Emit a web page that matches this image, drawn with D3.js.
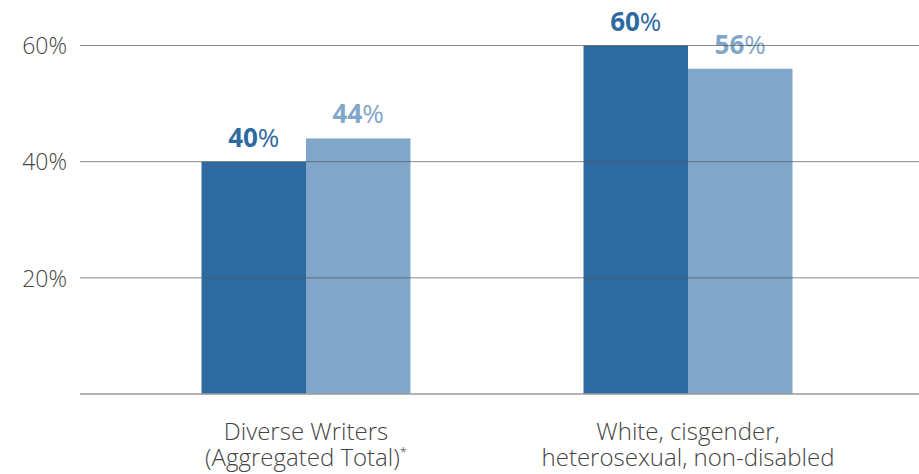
<!DOCTYPE html>
<html>
<head>
<meta charset="utf-8">
<script src="https://cdn.jsdelivr.net/npm/d3@7"></script>
<style>
  body { margin: 0; background: #fff; }
  svg { display: block; font-family: "Open Sans", "Noto Sans", sans-serif; }
</style>
</head>
<body>
<svg id="chart" width="919" height="474"></svg>
<script>
// chart data
var categories = [["Diverse Writers", "(Aggregated Total)"], ["White, cisgender,", "heterosexual, non-disabled"]];
var seriesNames = ["first", "second"];
var firstValues = [40, 60];
var secondValues = [44, 56];
var yTicks = [20, 40, 60];
var seriesColors = ["#2e6aa2", "#80a6c9"];

var svg = d3.select("#chart");
var width = 919, height = 474;

var yScale = d3.scaleLinear().domain([0, 60]).range([394, 45.5]);

var catKeys = categories.map(function(c) { return c.join(" "); });
var x0 = d3.scaleBand()
    .domain(catKeys)
    .range([115, 879])
    .paddingInner(0.453)
    .paddingOuter(0.2265);
var x1 = d3.scaleBand()
    .domain(seriesNames)
    .range([0, x0.bandwidth()]);

var rows = catKeys.map(function(k, i) {
    return { key: k, values: [firstValues[i], secondValues[i]] };
});

// bars
var groups = svg.selectAll("g.group")
    .data(rows)
    .enter().append("g")
    .attr("class", "group")
    .attr("transform", function(d) { return "translate(" + x0(d.key) + ",0)"; });

groups.selectAll("rect")
    .data(function(d) { return d.values.map(function(v, j) { return { s: seriesNames[j], v: v, c: seriesColors[j] }; }); })
    .enter().append("rect")
    .attr("x", function(d) { return x1(d.s); })
    .attr("width", x1.bandwidth())
    .attr("y", function(d) { return yScale(d.v); })
    .attr("height", function(d) { return yScale(0) - yScale(d.v); })
    .attr("fill", function(d) { return d.c; });

// value labels
var labels = groups.selectAll("text.val")
    .data(function(d) { return d.values.map(function(v, j) { return { s: seriesNames[j], v: v, c: seriesColors[j] }; }); })
    .enter().append("text")
    .attr("class", "val")
    .attr("x", function(d) { return x1(d.s) + x1.bandwidth() / 2; })
    .attr("y", function(d) { return yScale(d.v) - 15; })
    .attr("text-anchor", "middle")
    .attr("fill", function(d) { return d.c; })
    .style("font-size", "26px");
labels.append("tspan").style("font-weight", 700).text(function(d) { return d.v; });
labels.append("tspan").style("font-weight", 400).text("%");

// y labels
var yAxis = d3.axisLeft(yScale).tickValues(yTicks).tickSize(0).tickFormat(function(d) { return d + "%"; });
var gy = svg.append("g").attr("transform", "translate(67,0)").call(yAxis);
gy.select(".domain").remove();
gy.selectAll("text")
    .attr("x", 0)
    .attr("dy", "0.36em")
    .attr("fill", "#444")
    .style("font-size", "23px")
    .style("font-weight", 300)
    .style("font-family", "'Open Sans', sans-serif");

// gridlines (drawn over bars)
svg.selectAll("line.grid")
    .data(yTicks)
    .enter().append("line")
    .attr("class", "grid")
    .attr("x1", 80).attr("x2", width)
    .attr("y1", function(d) { return yScale(d); })
    .attr("y2", function(d) { return yScale(d); })
    .attr("stroke", "#555")
    .attr("stroke-opacity", 0.7)
    .attr("stroke-width", 1);

svg.append("line")
    .attr("x1", 80).attr("x2", width)
    .attr("y1", yScale(0)).attr("y2", yScale(0))
    .attr("stroke", "#999")
    .attr("stroke-width", 1.5);

// category labels
var cat = svg.selectAll("text.cat")
    .data(categories)
    .enter().append("text")
    .attr("class", "cat")
    .attr("text-anchor", "middle")
    .attr("fill", "#444")
    .style("font-size", "24px")
    .style("font-weight", 300)
    .attr("transform", function(d, i) { return "translate(" + (x0(catKeys[i]) + x0.bandwidth() / 2) + ",440)"; });
cat.each(function(d, i) {
    var t = d3.select(this);
    t.append("tspan").attr("x", 0).attr("y", 0).text(d[0]);
    t.append("tspan").attr("x", 0).attr("y", 26).text(d[1]);
    if (i == 0) {
        t.append("tspan").attr("dy", -9).style("font-size", "13px").text("*");
    }
});
</script>
</body>
</html>
